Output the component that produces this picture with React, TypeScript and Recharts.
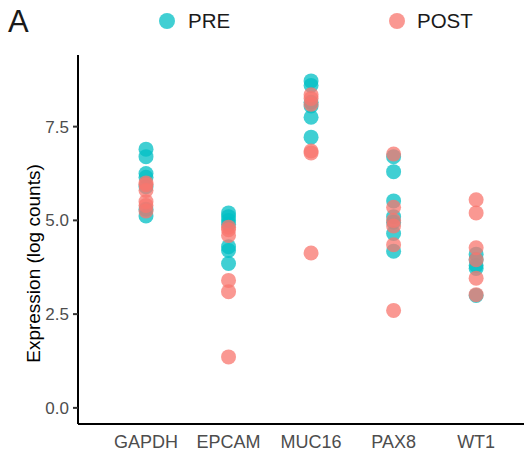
import React from 'react';
import { ScatterChart, Scatter, XAxis, YAxis } from 'recharts';

const genes = ['GAPDH', 'EPCAM', 'MUC16', 'PAX8', 'WT1'];
const yTicks = [0, 2.5, 5, 7.5];

const preGAPDH = [6.9, 6.7, 6.25, 6.15, 5.9, 5.3, 5.12];
const preEPCAM = [5.2, 5.1, 5.0, 4.9, 4.3, 4.2, 3.85];
const preMUC16 = [8.72, 8.6, 8.15, 8.05, 7.75, 7.22];
const prePAX8 = [6.7, 6.3, 5.52, 5.1, 4.95, 4.65, 4.18];
const preWT1 = [4.1, 3.95, 3.8, 3.72, 3.0];

const postGAPDH = [6.0, 5.95, 5.8, 5.5, 5.4, 5.25];
const postEPCAM = [4.82, 4.75, 4.6, 3.4, 3.1, 1.36];
const postMUC16 = [8.35, 8.25, 8.1, 6.85, 6.8, 4.13];
const postPAX8 = [6.77, 5.35, 5.0, 4.85, 4.35, 2.6];
const postWT1 = [5.55, 5.2, 4.27, 3.95, 3.46, 3.02];

const preSets = [preGAPDH, preEPCAM, preMUC16, prePAX8, preWT1];
const postSets = [postGAPDH, postEPCAM, postMUC16, postPAX8, postWT1];

const toPoints = (sets: number[][]) =>
  sets.flatMap((vals, i) => vals.map((v) => ({ x: i + 1, y: v })));

const preData = toPoints(preSets);
const postData = toPoints(postSets);

const PRE_COLOR = '#00BFC4';
const POST_COLOR = '#F8766D';
const FONT = '"Liberation Sans", Arial, Helvetica, sans-serif';

const dot = (color: string) => (props: any) => (
  <circle cx={props.cx} cy={props.cy} r={7.5} fill={color} fillOpacity={0.75} />
);

const YTitle = (props: any) => {
  const vb = props.viewBox || {};
  const x = 40;
  const y = (vb.y ?? 55) + (vb.height ?? 369) / 2 + 24;
  return (
    <text
      x={x}
      y={y}
      transform={`rotate(-90, ${x}, ${y})`}
      textAnchor="middle"
      fontSize={19}
      fill="#000"
      fontFamily={FONT}
    >
      Expression (log counts)
    </text>
  );
};

export default function App() {
  return (
    <div style={{ position: 'absolute', left: 0, top: 0, width: 524, height: 461, background: '#fff', fontFamily: FONT }}>
      <div style={{ position: 'absolute', left: 8, top: 2, fontSize: 31, color: '#1a1a1a', lineHeight: '40px' }}>A</div>
      <div style={{ position: 'absolute', left: 159, top: 9, display: 'flex', alignItems: 'center' }}>
        <span style={{ width: 16, height: 16, borderRadius: 8, background: PRE_COLOR, opacity: 0.75, display: 'inline-block' }} />
        <span style={{ marginLeft: 13, fontSize: 20.5, color: '#1a1a1a' }}>PRE</span>
      </div>
      <div style={{ position: 'absolute', left: 389, top: 9, display: 'flex', alignItems: 'center' }}>
        <span style={{ width: 16, height: 16, borderRadius: 8, background: POST_COLOR, opacity: 0.75, display: 'inline-block' }} />
        <span style={{ marginLeft: 12, fontSize: 20.5, color: '#1a1a1a' }}>POST</span>
      </div>
      <ScatterChart width={524} height={461} margin={{ top: 55, right: 0, bottom: 0, left: 0 }}>
        <XAxis
          type="number"
          dataKey="x"
          domain={[0.176, 5.58]}
          ticks={[1, 2, 3, 4, 5]}
          allowDataOverflow
          tickFormatter={(v: number) => genes[v - 1]}
          height={37}
          tickLine={false}
          tickSize={6}
          tickMargin={5}
          axisLine={{ stroke: '#000', strokeWidth: 2 }}
          tick={{ fill: '#4D4D4D', fontSize: 18, fontFamily: FONT }}
        />
        <YAxis
          type="number"
          dataKey="y"
          domain={[-0.43, 9.41]}
          ticks={yTicks}
          allowDataOverflow
          width={78}
          tickFormatter={(v: number) => v.toFixed(1)}
          tickSize={5}
          tickMargin={4}
          tickLine={{ stroke: '#333', strokeWidth: 2 }}
          axisLine={{ stroke: '#000', strokeWidth: 2 }}
          tick={{ fill: '#4D4D4D', fontSize: 17, fontFamily: FONT }}
          label={<YTitle />}
        />
        <Scatter data={preData} fill={PRE_COLOR} shape={dot(PRE_COLOR)} isAnimationActive={false} />
        <Scatter data={postData} fill={POST_COLOR} shape={dot(POST_COLOR)} isAnimationActive={false} />
      </ScatterChart>
    </div>
  );
}
